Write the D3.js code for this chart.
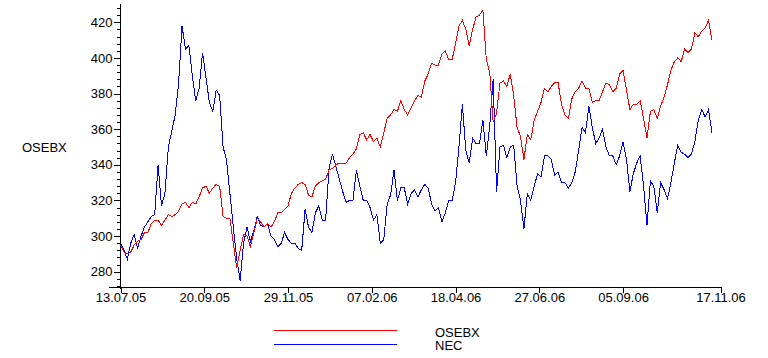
<!DOCTYPE html>
<html><head><meta charset="utf-8">
<script src="https://cdn.jsdelivr.net/npm/d3@7"></script>
<style>
body{margin:0;background:#fff}
svg{display:block}
text{font-family:"Liberation Sans",Arial,sans-serif;font-size:13px;fill:#000}
</style>
</head><body><svg width="768" height="358"></svg>
<script>
// ---- data ----
const seriesNames = ["OSEBX", "NEC"];
const seriesColors = ["#ff0000", "#0000ff"];
const dayStep = 2; // one reading every 2 trading days
const osebx = [
  295,291,290,291,295,297,298,302,302,307,
  309,309,306,309,312,311,312,314,318,319,
  316,319,318,322,327,328,324,327,329,328,
  311,310,310,296,282,292,301,300,294,302,
  310,308,305,307,305,
  308,313,313,315,317,
  324,327,329,330,329,323,322,328,330,331,
  332,337,338,340,341,341,341,344,346,349,
  357,358,354,357,353,355,350,358,366,368,
  371,370,376,371,368,372,376,379,
  378,387,391,397,396,396,402,404,399,399,
  408,418,421,416,407,416,423,424,427,399,
  392,364,369,386,387,384,391,379,361,356,
  343,357,354,365,370,375,383,381,384,386,
  386,374,368,366,
  377,381,383,387,383,383,375,376,376,381,
  386,385,381,383,391,393,382,371,374,374,
  376,366,355,370,371,366,373,378,385,393,
  398,400,398,405,403,405,414,412,415,417,421,410];
const nec = [
  296,292,287,296,301,293,300,305,308,311,
  312,340,317,324,350,359,368,386,418,405,
  407,390,376,383,403,389,375,370,382,379,
  350,343,324,305,287,275,296,305,297,303,
  311,306,305,307,300,
  298,294,296,302,298,
  296,296,293,292,315,305,302,313,317,309,
  309,338,346,339,332,325,319,320,320,337,
  328,320,320,316,309,312,296,298,318,323,
  337,320,327,327,318,324,326,322,
  326,329,327,318,314,316,308,313,320,320,
  330,350,374,348,341,355,352,352,365,345,
  362,388,325,350,351,344,350,351,328,320,
  304,324,320,328,335,333,345,345,343,334,
  336,330,330,327,
  330,336,348,361,358,373,361,352,355,360,
  350,345,345,340,345,353,343,325,335,341,
  345,328,306,331,328,313,330,326,321,330,
  341,351,347,346,344,346,353,365,371,367,371,358];
const tickDays = [0, 49, 98, 147, 196, 245, 294, 351];
const tickLabels = ["13.07.05","20.09.05","29.11.05","07.02.06","18.04.06","27.06.06","05.09.06","17.11.06"];
const yMajorTicks = [280, 300, 320, 340, 360, 380, 400, 420];
const yMinorTicks = d3.range(272, 429, 4);
const yTitle = "OSEBX";

// ---- scales ----
const svg = d3.select("svg");
const x = d3.scaleLinear().domain([0, 351]).range([120.5, 720.5]);
const y = d3.scaleLinear().domain([270.85, 430.85]).range([288, 3]);

// ---- axes ----
const yAxisG = svg.append("g").attr("transform", "translate(119.5,0)")
  .style("shape-rendering", "crispEdges");
yAxisG.call(d3.axisLeft(y).tickValues(yMinorTicks).tickSize(3).tickSizeOuter(0).tickFormat(""));
yAxisG.append("g").call(d3.axisLeft(y).tickValues(yMajorTicks).tickSize(6).tickPadding(1).tickSizeOuter(0).tickFormat(d3.format("d")));
yAxisG.selectAll("text").style("font-size", "13px").style("font-family", '"Liberation Sans",Arial,sans-serif').attr("fill", "#000");
yAxisG.selectAll("path,line").attr("stroke", "#000");

const xAxisG = svg.append("g").attr("transform", "translate(0,287.5)")
  .style("shape-rendering", "crispEdges");
xAxisG.call(d3.axisBottom(x).tickValues(tickDays).tickFormat((d, i) => tickLabels[i])
  .tickSize(5).tickPadding(0).tickSizeOuter(0));
xAxisG.select(".domain").remove();
xAxisG.append("line").attr("x1", 109).attr("x2", 722).attr("y1", 0).attr("y2", 0).attr("stroke", "#000");
xAxisG.selectAll("text").style("font-size", "13px").style("font-family", '"Liberation Sans",Arial,sans-serif').attr("fill", "#000");
xAxisG.selectAll("line").attr("stroke", "#000");

svg.append("text").attr("x", 22).attr("y", 151.5).text(yTitle);

// ---- series ----
const line = d3.line().x((d, i) => x(i * dayStep)).y(d => y(d));
const seriesData = [osebx, nec];
// draw NEC first, OSEBX on top
[1, 0].forEach(k => {
  svg.append("path").datum(seriesData[k])
    .attr("fill", "none").attr("stroke", seriesColors[k]).attr("stroke-width", 1)
    .style("shape-rendering", "crispEdges")
    .attr("d", line);
});

// ---- legend ----
const legend = svg.append("g");
seriesNames.forEach((name, k) => {
  const ly = 330.5 + k * 14;
  legend.append("line").attr("x1", 274).attr("x2", 397).attr("y1", ly).attr("y2", ly)
    .attr("stroke", seriesColors[k]).style("shape-rendering", "crispEdges");
  legend.append("text").attr("x", 435).attr("y", 336.5 + k * 13.5).text(name);
});
</script>
</body></html>
